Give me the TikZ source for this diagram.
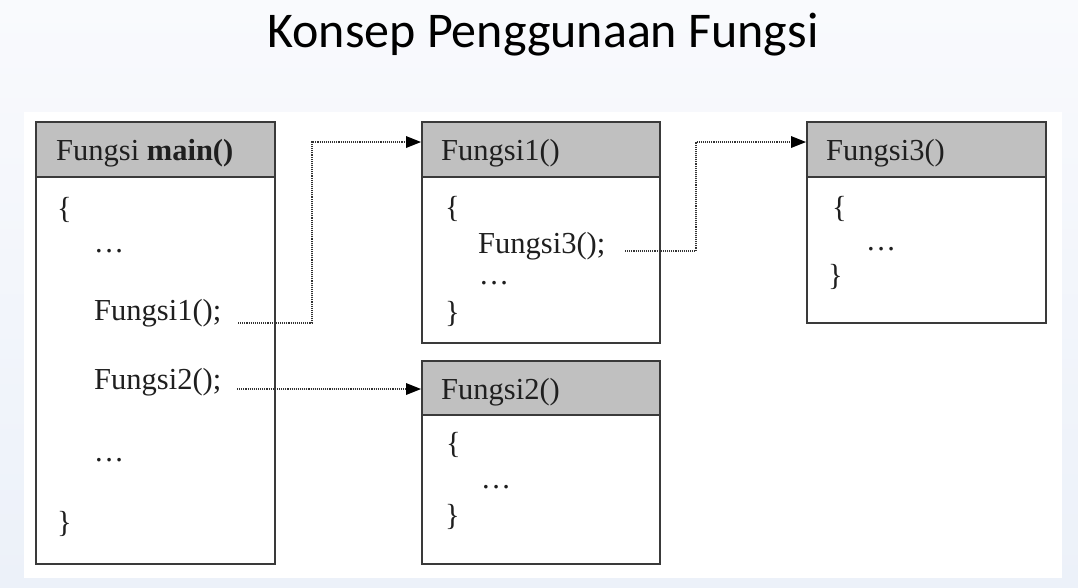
\documentclass[tikz,border=0pt]{standalone}
\usepackage{fontspec}
\setmainfont{Liberation Serif}
\newfontfamily\titlefont{Carlito}
\usetikzlibrary{arrows.meta}
\definecolor{bgtop}{HTML}{F9FAFD}
\definecolor{bgbot}{HTML}{ECF1F9}
\definecolor{hdrgray}{HTML}{C0C0C0}
\definecolor{edge}{HTML}{3A3A3A}
\newcommand{\dotsx}{.\kern2.5pt.\kern2.5pt.}
\tikzset{
  hdr/.style={draw=edge, line width=2pt, fill=hdrgray, anchor=north west, inner sep=0pt, minimum height=55pt},
  body/.style={draw=edge, line width=2pt, fill=white, anchor=north west, inner sep=0pt},
  code/.style={anchor=base west, inner sep=0pt, font=\fontsize{30.5}{36}\selectfont, text=black!88},
  conn/.style={densely dotted, line width=1.1pt, draw=black!80, -{Triangle[length=15pt,width=12pt,fill=black,color=black,line width=0pt]}},
}
\begin{document}
\begin{tikzpicture}[x=1pt,y=-1pt]
\useasboundingbox (0,0) rectangle (1078,587);
\shade[top color=bgtop, bottom color=bgbot] (0,0) rectangle (1078,587);
\fill[white] (24,112) rectangle (1062,578);
\node[anchor=base, inner sep=0pt, font=\titlefont\fontsize{50}{60}\selectfont] (title) at (543,47) {Konsep Penggunaan Fungsi};

% main box
\node[body, minimum width=239pt, minimum height=387pt] (mb) at (35,176) {};
\node[hdr, minimum width=239pt] (mh) at (35,121) {};
\node[code] (mt) at (56,160) {Fungsi \textbf{main()}};
\node[code] (mo) at (57,218) {\{};
\node[code] (md1) at (95,252) {\dotsx};
\node[code] (mc1) at (94,320) {Fungsi1();};
\node[code] (mc2) at (94,389) {Fungsi2();};
\node[code] (md2) at (95,461) {\dotsx};
\node[code] (mcl) at (57,532) {\}};

% Fungsi1 box
\node[body, minimum width=238pt, minimum height=166pt] (f1b) at (421,176) {};
\node[hdr, minimum width=238pt] (f1h) at (421,121) {};
\node[code] (f1t) at (441,160) {Fungsi1()};
\node[code] (f1o) at (445,217) {\{};
\node[code] (f1c) at (478,253) {Fungsi3();};
\node[code] (f1d) at (480,284) {\dotsx};
\node[code] (f1cl) at (445,322) {\}};

% Fungsi3 box
\node[body, minimum width=239pt, minimum height=146pt] (f3b) at (806,176) {};
\node[hdr, minimum width=239pt] (f3h) at (806,121) {};
\node[code] (f3t) at (826,160) {Fungsi3()};
\node[code] (f3o) at (832,217) {\{};
\node[code] (f3d) at (867,250) {\dotsx};
\node[code] (f3cl) at (828,285) {\}};

% Fungsi2 box
\node[body, minimum width=238pt, minimum height=149pt] (f2b) at (421,414) {};
\node[hdr, minimum width=238pt, minimum height=54pt] (f2h) at (421,360) {};
\node[code] (f2t) at (441,399) {Fungsi2()};
\node[code] (f2o) at (446,453) {\{};
\node[code] (f2d) at (482,488) {\dotsx};
\node[code] (f2cl) at (445,525) {\}};

% connectors
\coordinate (s1) at (238,323);
\coordinate (s2) at (237,389);
\coordinate (s3) at (625,251);
\draw[conn] (s1) -- ++(74,0) |- ([yshift=7.5pt]f1h.west);
\draw[conn] (s2) -- (s2 -| f2h.west);
\draw[conn] (s3) -- ++(71,0) |- ([yshift=7.5pt]f3h.west);
\end{tikzpicture}
\end{document}
